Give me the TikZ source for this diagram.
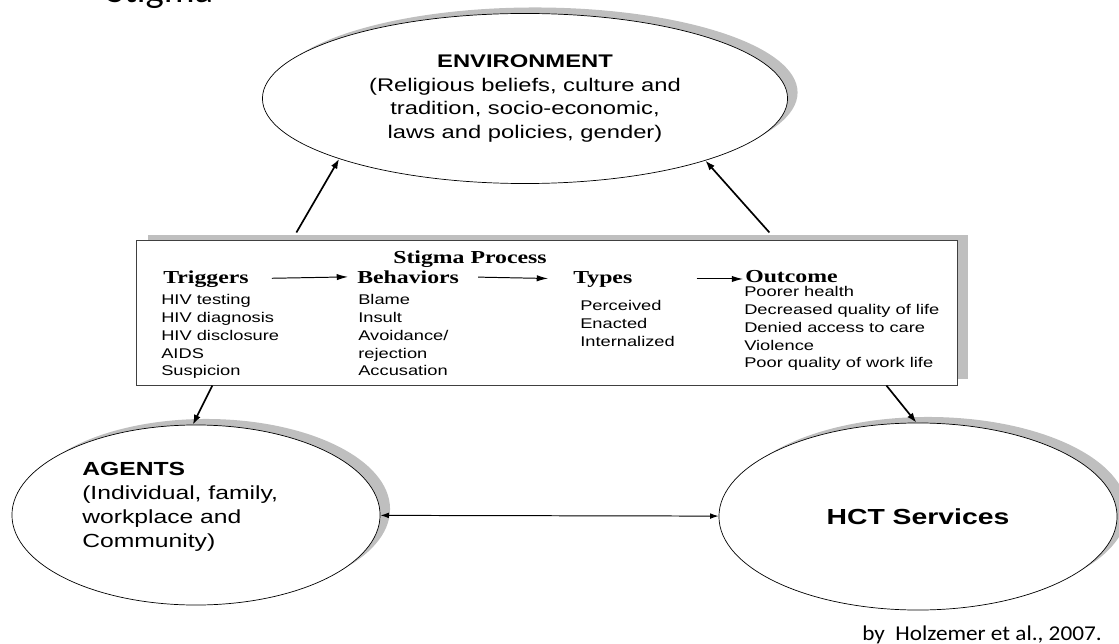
\documentclass[tikz,border=0pt]{standalone}
\usepackage{fontspec}
\newfontfamily\sansw[FakeStretch=1.3]{Liberation Sans}
\newfontfamily\serifw[FakeStretch=1.3]{Liberation Serif}
\newfontfamily\calw[FakeStretch=1.1]{Carlito}
\usepackage{tikz}
\usetikzlibrary{shapes.geometric}
\usetikzlibrary{shadows}
\usetikzlibrary{arrows.meta}
\usetikzlibrary{calc}

\tikzset{
  oval/.style={ellipse, draw=black, line width=0.5pt, fill=white, inner sep=0pt,
    drop shadow={shadow xshift=0.25cm, shadow yshift=0.15cm, fill=black!25, opacity=1}},
  procbox/.style={rectangle, draw=black!75, line width=0.7pt, fill=white, inner sep=0pt,
    minimum width=20.5cm, minimum height=3.6cm,
    drop shadow={shadow xshift=0.275cm, shadow yshift=0.15cm, fill=black!25, opacity=1}},
  head/.style={font=\serifw\bfseries\fontsize{13}{15}\selectfont, inner sep=0pt},
  items/.style={font=\sansw\fontsize{10}{12.7}\selectfont, align=left, inner sep=0pt, anchor=north west},
  link/.style={-{Latex[length=7pt,width=5pt]}, line width=1.2pt},
  flow/.style={-{Latex[length=8pt,width=4.5pt]}, line width=0.7pt},
  both/.style={{Latex[length=6pt,width=4pt]}-{Latex[length=6pt,width=4pt]}, line width=0.7pt},
}

\begin{document}
\begin{tikzpicture}[x=0.025cm, y=-0.025cm]
	\useasboundingbox (0,0) rectangle (1119,644);
	% title and source
	\node[font=\calw\fontsize{25}{28}\selectfont, anchor=base west, inner sep=0pt] (title) at (106,3) {Stigma};
	\node[font=\calw\fontsize{15}{17}\selectfont, anchor=base west, inner sep=0pt] (source) at (862,640) {by\ \ Holzemer et al., 2007.};
	% ovals
	\node[oval, minimum width=13.125cm, minimum height=4.25cm, align=center, font=\sansw\fontsize{13}{17}\selectfont] (env) at (525,98.5) {{\bfseries ENVIRONMENT}\\(Religious beliefs, culture and\\tradition, socio-economic,\\laws and policies, gender)};
	\node[oval, minimum width=9.2cm, minimum height=4.5cm] (agents) at (196,515) {};
	\node[font=\sansw\fontsize{13.5}{17}\selectfont, align=left, anchor=north west, inner sep=0pt] (agentstxt) at (82,462) {{\bfseries AGENTS}\\(Individual, family,\\workplace and\\Community)};
	\node[oval, minimum width=9.95cm, minimum height=4.675cm, font=\sansw\bfseries\fontsize{15.5}{18}\selectfont] (hct) at (918,516.5) {HCT Services};
	% stigma process box
	\node[procbox] (box) at (547,313) {};
	\node[head, anchor=base] (proc) at (470,263) {Stigma Process};
	\node[head, anchor=base west] (trig) at (163,283) {Triggers};
	\node[head, anchor=base west] (beh) at (357,283) {Behaviors};
	\node[head, anchor=base west] (types) at (573,283) {Types};
	\node[head, anchor=base west] (out) at (745,282) {Outcome};
	\node[items] (trigitems) at (161,294) {HIV testing\\HIV diagnosis\\HIV disclosure\\AIDS\\Suspicion};
	\node[items] (behitems) at (358,294) {Blame\\Insult\\Avoidance/\\rejection\\Accusation};
	\node[items] (typeitems) at (580,300) {Perceived\\Enacted\\Internalized};
	\node[items] (outitems) at (744,286) {Poorer health\\Decreased quality of life\\Denied access to care\\Violence\\Poor quality of work life};
	\draw[flow, shorten <=0.575cm, shorten >=0.225cm] (trig.east) -- (beh.west);
	\draw[flow, shorten <=0.475cm, shorten >=0.625cm] (beh.east) -- (types.west);
	\draw[flow, shorten <=1.6cm, shorten >=0.05cm] (types.east) -- (types.east -| out.west);
	% links between box and ovals
	\draw[link] ($(box.north west)+(160,-8)$) -- (env.198.4);
	\draw[link] ($(box.north west)+(633,-8)$) -- (env.341.8);
	\draw[link] ($(box.south west)+(76,0)$) -- (agents.92.5);
	\draw[link] ($(box.south west)+(750,0)$) -- (hct.91);
	\draw[both] (agents) -- (hct);
\end{tikzpicture}
\end{document}
